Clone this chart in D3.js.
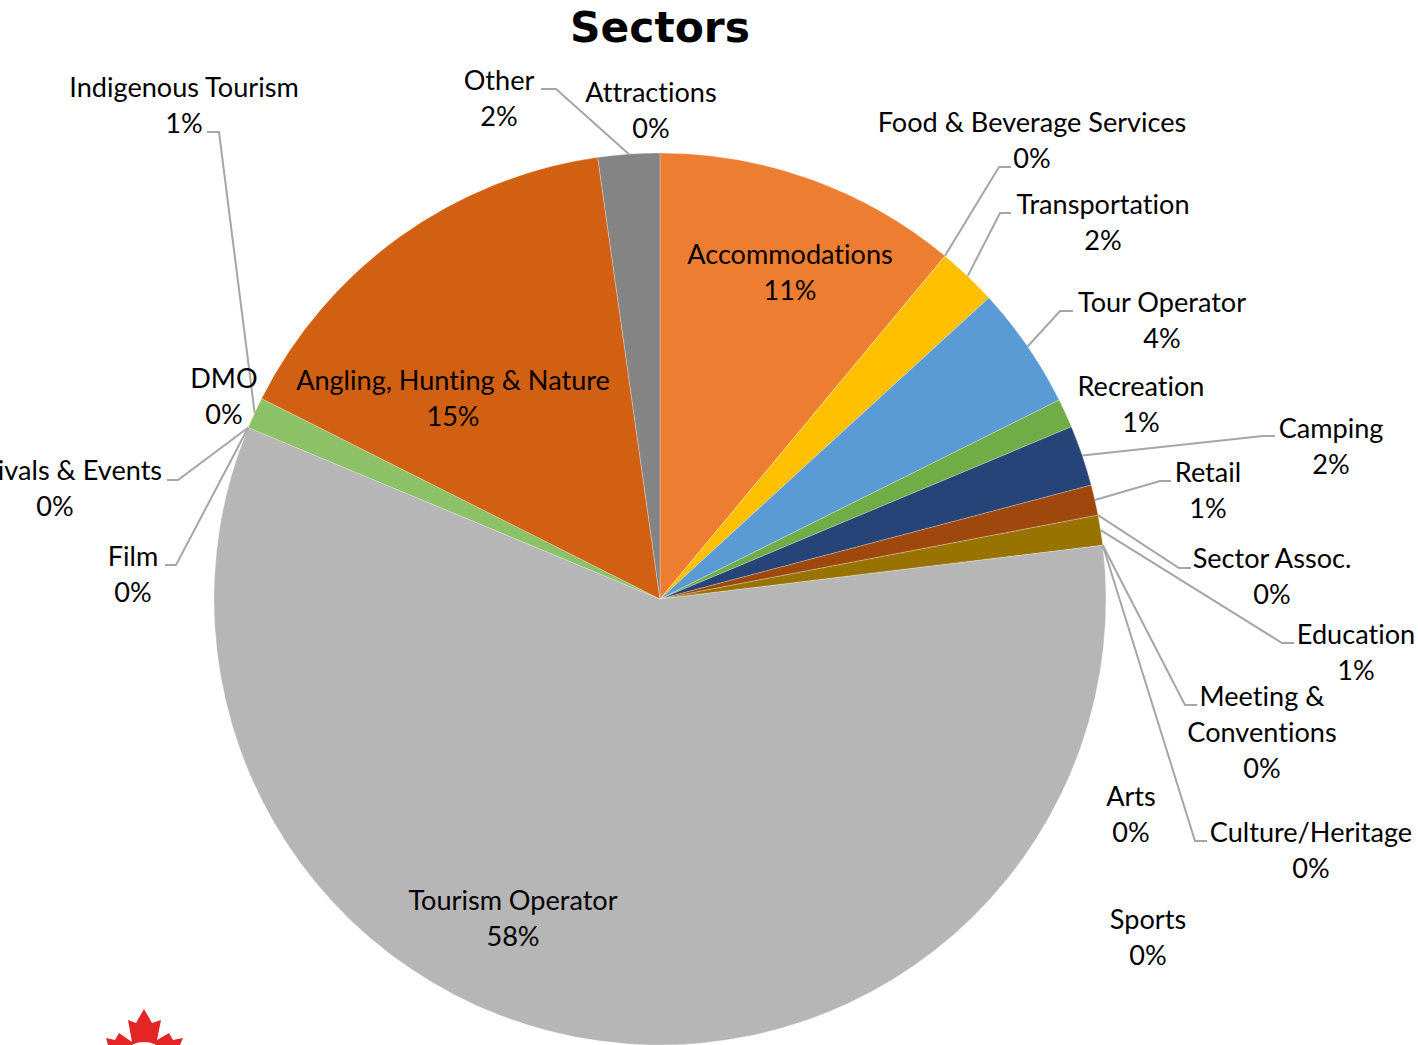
<!DOCTYPE html>
<html>
<head>
<meta charset="utf-8">
<script src="https://cdn.jsdelivr.net/npm/d3@7"></script>
<style>
  html, body { margin: 0; padding: 0; background: #fff; overflow: hidden; }
  svg { display: block; }
  text { font-family: Lato, sans-serif; font-size: 27.1px; font-variant-ligatures: none; fill: #000; }
</style>
</head>
<body>
<div class="canvas"></div>
<script>
const sectors = ["Attractions", "Accommodations", "Food & Beverage Services", "Transportation", "Tour Operator",
  "Recreation", "Camping", "Retail", "Sector Assoc.", "Education", "Meeting & Conventions", "Culture/Heritage",
  "Arts", "Sports", "Tourism Operator", "Film", "Festivals & Events", "DMO", "Indigenous Tourism",
  "Angling, Hunting & Nature", "Other"];
const shares = [0, 11.03, 0, 2.17, 4.44, 1.05, 2.2, 1.1, 0, 1.09, 0, 0, 0, 0, 58.2, 0, 0, 0, 1.14, 15.35, 2.23];
const percentLabels = ["0%", "11%", "0%", "2%", "4%", "1%", "2%", "1%", "0%", "1%", "0%", "0%", "0%", "0%", "58%", "0%", "0%", "0%", "1%", "15%", "2%"];
const sliceColors = ["#a5a5a5", "#ed7d31", "#a5a5a5", "#ffc000", "#5b9bd5", "#70ad47", "#264478", "#9e480e", "#636363",
  "#997300", "#255e91", "#43682b", "#698ed0", "#f1975a", "#b6b6b6", "#ffcd33", "#7cafdd", "#8cc168", "#8cc168",
  "#d26012", "#848484"];

// label layout, by sector: x, y = centre of first line, knee = where the leader bends
const labelLayout = {
  "Attractions": { x: 651, y: 92 },
  "Accommodations": { x: 790, y: 254 },
  "Food & Beverage Services": { x: 1032, y: 122, knee: [999, 167], end: [1011, 167] },
  "Transportation": { x: 1103, y: 204, knee: [1000, 213], end: [1011, 213] },
  "Tour Operator": { x: 1162, y: 302, knee: [1060, 311], end: [1073, 311] },
  "Recreation": { x: 1141, y: 386 },
  "Camping": { x: 1331, y: 428, knee: [1263, 436], end: [1275, 436] },
  "Retail": { x: 1208, y: 472, knee: [1160, 481], end: [1171, 481] },
  "Sector Assoc.": { x: 1272, y: 558, knee: [1179, 568], end: [1191, 568] },
  "Education": { x: 1356, y: 634, knee: [1282, 643], end: [1294, 643] },
  "Meeting & Conventions": { x: 1262, y: 696, lines: ["Meeting &", "Conventions"], knee: [1185, 705], end: [1197, 705] },
  "Culture/Heritage": { x: 1311, y: 832, knee: [1195, 841], end: [1207, 841] },
  "Arts": { x: 1131, y: 796 },
  "Sports": { x: 1148, y: 919 },
  "Tourism Operator": { x: 513, y: 900 },
  "Film": { x: 133, y: 556, knee: [176, 565], end: [165, 565] },
  "Festivals & Events": { x: 55, y: 470, knee: [178, 480], end: [167, 480] },
  "DMO": { x: 224, y: 378 },
  "Indigenous Tourism": { x: 184, y: 87, knee: [219, 132], end: [207, 132] },
  "Angling, Hunting & Nature": { x: 453, y: 380 },
  "Other": { x: 499, y: 80, knee: [556, 89], end: [541, 89] }
};

const width = 1418, height = 1045;
const cx = 660, cy = 599, radius = 446, lineGap = 36;

const svg = d3.select(".canvas").append("svg").attr("width", width).attr("height", height);

let rows = sectors.map((name, i) => ({ name: name, value: shares[i], pct: percentLabels[i], color: sliceColors[i] }));

let pie = d3.pie().sort(null).value((d) => d.value);
let arc = d3.arc().innerRadius(0).outerRadius(radius);
let slices = pie(rows);

let plot = svg.append("g").attr("transform", `translate(${cx},${cy})`);

plot.selectAll("path")
  .data(slices.filter((d) => d.data.value > 0))
  .enter()
  .append("path")
  .attr("d", arc)
  .attr("fill", (d) => d.data.color)
  .attr("stroke", "#fff")
  .attr("stroke-width", 0.25);

// leaders start on the rim, at the middle of their slice
let rim = (d) => {
  let mid = (d.startAngle + d.endAngle) / 2;
  return [cx + radius * Math.sin(mid), cy - radius * Math.cos(mid)];
};
let leader = d3.line();

svg.append("g")
  .selectAll("path")
  .data(slices.filter((d) => labelLayout[d.data.name].knee))
  .enter()
  .append("path")
  .attr("fill", "none")
  .attr("stroke", "#a6a6a6")
  .attr("stroke-width", 2)
  .attr("d", (d) => {
    let l = labelLayout[d.data.name];
    return leader([rim(d), l.knee, l.end]);
  });

let labels = svg.append("g")
  .selectAll("text")
  .data(slices)
  .enter()
  .append("text")
  .attr("text-anchor", "middle");

labels.each(function (d) {
  let l = labelLayout[d.data.name];
  let lines = (l.lines || [d.data.name]).concat(d.data.pct);
  d3.select(this)
    .selectAll("tspan")
    .data(lines)
    .enter()
    .append("tspan")
    .attr("x", l.x)
    .attr("y", (t, i) => l.y + i * lineGap + 9.5)
    .text((t) => t);
});

svg.append("text")
  .attr("x", 660)
  .attr("y", 42)
  .attr("text-anchor", "middle")
  .style("font-family", "'DejaVu Sans', sans-serif")
  .style("font-weight", "bold")
  .style("font-size", "42.4px")
  .text("Sectors");

// top of the logo, cut by the page edge
svg.append("path")
  .attr("fill", "#e32526")
  .attr("d", "M144,1009L152,1023L161,1020L157,1040L169,1033L173,1040L183,1038L180,1045L108,1045L106,1038L115,1040L119,1033L132,1042L128,1020L136,1023Z");
svg.append("ellipse")
  .attr("cx", 144).attr("cy", 1050).attr("rx", 15).attr("ry", 8)
  .attr("fill", "#fff");
</script>
</body>
</html>
